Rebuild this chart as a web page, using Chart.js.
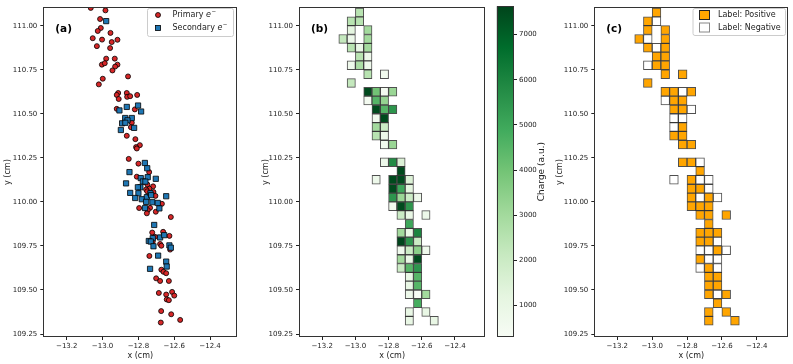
<!DOCTYPE html>
<html>
<head>
<meta charset="utf-8">
<script src="https://cdn.jsdelivr.net/npm/chart.js@4.4.1/dist/chart.umd.min.js"></script>
<style>
html, body { margin: 0; padding: 0; background: #fff; }
.panel { position: absolute; top: 0; }
</style>
</head>
<body>
<canvas id="chartA" class="panel" width="245" height="364" style="left:0px"></canvas>
<canvas id="chartB" class="panel" width="232" height="364" style="left:258px"></canvas>
<canvas id="chartBar" class="panel" width="65" height="364" style="left:490px"></canvas>
<canvas id="chartC" class="panel" width="241" height="364" style="left:552px"></canvas>
<script>
// (a) electron positions
const primaryX = [-13.066, -12.984, -13.014, -13.010, -13.027, -12.956, -13.055, -13.003, -12.917, -12.949,
  -13.032, -12.958, -12.980, -12.932, -13.004, -12.988, -12.917, -12.930, -12.945, -12.858,
  -12.999, -13.021, -12.913, -12.865, -12.921, -12.807, -12.863, -12.846, -12.910, -12.921,
  -12.820, -12.837, -12.842, -12.865, -12.817, -12.792, -12.813, -12.809, -12.854, -12.800,
  -12.740, -12.809, -12.768, -12.750, -12.718, -12.739, -12.757, -12.751, -12.716, -12.705,
  -12.669, -12.735, -12.748, -12.753, -12.796, -12.703, -12.619, -12.723, -12.662, -12.627,
  -12.708, -12.720, -12.679, -12.672, -12.623, -12.739, -12.672, -12.660, -12.645, -12.701,
  -12.679, -12.630, -12.686, -12.612, -12.645, -12.600, -12.642, -12.630, -12.673, -12.617,
  -12.567, -12.675];
const primaryY = [111.101, 111.087, 111.038, 110.987, 110.970, 110.959, 110.929, 110.921, 110.920, 110.907,
  110.884, 110.873, 110.813, 110.813, 110.779, 110.787, 110.779, 110.768, 110.746, 110.712,
  110.699, 110.667, 110.618, 110.618, 110.607, 110.607, 110.596, 110.600, 110.584, 110.528,
  110.525, 110.449, 110.424, 110.375, 110.356, 110.322, 110.311, 110.303, 110.244, 110.217,
  110.169, 110.143, 110.114, 110.098, 110.088, 110.075, 110.070, 110.060, 110.056, 110.034,
  109.989, 109.966, 109.953, 109.935, 109.965, 109.944, 109.914, 109.826, 109.830, 109.807,
  109.802, 109.775, 109.761, 109.751, 109.729, 109.693, 109.615, 109.603, 109.595, 109.566,
  109.551, 109.551, 109.483, 109.489, 109.474, 109.468, 109.446, 109.442, 109.380, 109.362,
  109.330, 109.315];
const secondaryX = [-12.980, -12.906, -12.865, -12.802, -12.785, -12.874, -12.837, -12.861, -12.891, -12.873,
  -12.824, -12.898, -12.764, -12.751, -12.850, -12.787, -12.748, -12.703, -12.775, -12.761,
  -12.869, -12.789, -12.803, -12.645, -12.846, -12.800, -12.818, -12.781, -12.753, -12.733,
  -12.729, -12.757, -12.722, -12.692, -12.683, -12.763, -12.712, -12.720, -12.679, -12.656,
  -12.742, -12.731, -12.716, -12.627, -12.619, -12.690, -12.645, -12.642, -12.735];
const secondaryY = [111.026, 110.519, 110.539, 110.547, 110.513, 110.476, 110.476, 110.463, 110.446, 110.449,
  110.420, 110.408, 110.221, 110.191, 110.169, 110.135, 110.140, 110.131, 110.116, 110.115,
  110.105, 110.083, 110.083, 110.032, 110.051, 110.049, 110.022, 110.015, 110.027, 110.049,
  110.038, 110.000, 109.998, 109.994, 109.963, 109.965, 109.869, 109.794, 109.798, 109.811,
  109.778, 109.775, 109.748, 109.753, 109.740, 109.695, 109.661, 109.633, 109.620];

// (b)/(c) pixel cells: centre, charge, label (1 = positive)
const cellX = [-12.975,
  -13.025, -12.975,
  -13.025, -12.925,
  -13.075, -13.025, -12.925,
  -13.025, -12.975, -12.925,
  -12.975, -12.925,
  -13.025, -12.975, -12.925,
  -12.925, -12.825,
  -13.025,
  -12.925, -12.875, -12.825, -12.775,
  -12.925, -12.875, -12.825,
  -12.875, -12.825, -12.775,
  -12.875, -12.825,
  -12.875, -12.825,
  -12.875, -12.825,
  -12.825, -12.775,
  -12.825, -12.775, -12.725,
  -12.725,
  -12.875, -12.775, -12.725, -12.675,
  -12.775, -12.725, -12.675,
  -12.775, -12.725, -12.675, -12.625,
  -12.775, -12.725, -12.675,
  -12.725, -12.675, -12.575,
  -12.675,
  -12.725, -12.675, -12.625,
  -12.725, -12.675, -12.625,
  -12.725, -12.675, -12.625, -12.575,
  -12.725, -12.675, -12.625,
  -12.725, -12.675, -12.625,
  -12.675, -12.625,
  -12.675, -12.625,
  -12.675, -12.625, -12.575,
  -12.625,
  -12.675, -12.575,
  -12.675, -12.525];
const cellY = [111.075,
  111.025, 111.025,
  110.975, 110.975,
  110.925, 110.925, 110.925,
  110.875, 110.875, 110.875,
  110.825, 110.825,
  110.775, 110.775, 110.775,
  110.725, 110.725,
  110.675,
  110.625, 110.625, 110.625, 110.625,
  110.575, 110.575, 110.575,
  110.525, 110.525, 110.525,
  110.475, 110.475,
  110.425, 110.425,
  110.375, 110.375,
  110.325, 110.325,
  110.225, 110.225, 110.225,
  110.175,
  110.125, 110.125, 110.125, 110.125,
  110.075, 110.075, 110.075,
  110.025, 110.025, 110.025, 110.025,
  109.975, 109.975, 109.975,
  109.925, 109.925, 109.925,
  109.875,
  109.825, 109.825, 109.825,
  109.775, 109.775, 109.775,
  109.725, 109.725, 109.725, 109.725,
  109.675, 109.675, 109.675,
  109.625, 109.625, 109.625,
  109.575, 109.575,
  109.525, 109.525,
  109.475, 109.475, 109.475,
  109.425,
  109.375, 109.375,
  109.325, 109.325];
const cellCharge = [2500,
  2500, 2500,
  1200, 3000,
  2200, 800, 3000,
  2500, 1000, 3000,
  2500, 800,
  700, 2800, 800,
  2500, 600,
  2200,
  7500, 4000, 500, 3200,
  500, 4500, 3300,
  7500, 4500, 5500,
  600, 7500,
  3000, 2000,
  2500, 800,
  600, 3200,
  800, 5800, 1500,
  7500,
  800, 7500, 7500, 1500,
  7500, 5000, 1200,
  5500, 3200, 2000, 800,
  600, 7500, 5500,
  2000, 1000, 800,
  5000,
  3000, 1000, 6000,
  7600, 5500, 2000,
  700, 2000, 3500, 700,
  3000, 1000, 7500,
  2000, 4500, 5500,
  1000, 4500,
  1000, 4500,
  800, 300, 3000,
  4800,
  1000, 1000,
  1000, 1000];
const cellPositive = [1,
  1, 0,
  1, 1,
  1, 0, 1,
  1, 0, 1,
  1, 1,
  0, 1, 1,
  1, 1,
  1,
  1, 1, 0, 1,
  0, 1, 1,
  1, 1, 0,
  0, 0,
  0, 1,
  1, 1,
  1, 1,
  1, 1, 0,
  1,
  0, 1, 0, 0,
  1, 1, 0,
  1, 0, 1, 0,
  1, 1, 1,
  1, 1, 1,
  1,
  1, 1, 1,
  1, 1, 0,
  0, 0, 1, 0,
  1, 0, 0,
  0, 1, 0,
  1, 1,
  1, 1,
  1, 0, 1,
  1,
  1, 1,
  1, 1];

const xTicks = [-13.2, -13.0, -12.8, -12.6, -12.4];
const yTicks = [109.25, 109.5, 109.75, 110.0, 110.25, 110.5, 110.75, 111.0];
const chargeTicks = [1000, 2000, 3000, 4000, 5000, 6000, 7000];
const CHARGE_MIN = 300, CHARGE_MAX = 7630;
const CELL = 0.05;
const Y_MIN = 109.233, Y_MAX = 111.105;

const greens = ['#f7fcf5', '#e5f5e0', '#c7e9c0', '#a1d99b', '#74c476', '#41ab5d', '#238b45', '#006d2c', '#00441b'];
const FONT = 'DejaVu Sans';
const INK = '#222';

function hexRgb(h) {
  return [parseInt(h.slice(1, 3), 16), parseInt(h.slice(3, 5), 16), parseInt(h.slice(5, 7), 16)];
}
function greenFor(v) {
  let t = (v - CHARGE_MIN) / (CHARGE_MAX - CHARGE_MIN);
  t = Math.max(0, Math.min(1, t)) * (greens.length - 1);
  const i = Math.min(Math.floor(t), greens.length - 2);
  const f = t - i;
  const a = hexRgb(greens[i]), b = hexRgb(greens[i + 1]);
  const c = a.map((v, k) => Math.round(v + (b[k] - v) * f));
  return 'rgb(' + c.join(',') + ')';
}
const fmtX = v => (v < 0 ? '\u2212' : '') + Math.abs(v).toFixed(1);

function axes(xMin, xMax, yWidth) {
  return {
    x: {
      type: 'linear', min: xMin, max: xMax, offset: false,
      afterBuildTicks: s => { s.ticks = xTicks.map(v => ({ value: v })); },
      afterFit: s => { s.height = 27; },
      ticks: { callback: fmtX, font: { family: FONT, size: 7 }, color: INK, padding: 2, maxRotation: 0, autoSkip: false },
      grid: { drawOnChartArea: false, drawTicks: true, tickLength: 3, color: INK, offset: false },
      border: { display: false },
      title: { display: true, text: 'x (cm)', font: { family: FONT, size: 8 }, color: INK, padding: { top: 0, bottom: 3 } }
    },
    y: {
      type: 'linear', min: Y_MIN, max: Y_MAX,
      afterBuildTicks: s => { s.ticks = yTicks.map(v => ({ value: v })); },
      afterFit: s => { s.width = yWidth; },
      ticks: { callback: v => v.toFixed(2), font: { family: FONT, size: 7 }, color: INK, padding: 3, autoSkip: false },
      grid: { drawOnChartArea: false, drawTicks: true, tickLength: 3, color: INK },
      border: { display: false },
      title: { display: true, text: 'y (cm)', font: { family: FONT, size: 8 }, color: INK, padding: { top: 3, bottom: 0 } }
    }
  };
}

// frame round the plot and the panel tag
const framePlugin = {
  id: 'frame',
  afterDatasetsDraw(chart, args, opts) {
    const { ctx, chartArea: a } = chart;
    ctx.save();
    ctx.strokeStyle = '#333';
    ctx.lineWidth = 1;
    ctx.strokeRect(Math.round(a.left) + 0.5, Math.round(a.top) + 0.5,
      Math.round(a.right) - Math.round(a.left) - 1, Math.round(a.bottom) - Math.round(a.top) - 1);
    if (opts.tag) {
      ctx.fillStyle = '#000';
      ctx.font = 'bold 10.5px "' + FONT + '"';
      ctx.textBaseline = 'middle';
      ctx.fillText(opts.tag, a.left + 12, a.top + 22);
    }
    ctx.restore();
  }
};

function legendBox(ctx, x, y, w, h) {
  ctx.beginPath();
  ctx.roundRect(x + 0.5, y + 0.5, w, h, 2);
  ctx.fillStyle = 'rgba(255,255,255,0.85)';
  ctx.fill();
  ctx.strokeStyle = '#ccc';
  ctx.lineWidth = 1;
  ctx.stroke();
}
function electronLabel(ctx, word, x, y) {
  ctx.font = '8px "' + FONT + '"';
  ctx.fillText(word + ' ', x, y);
  x += ctx.measureText(word + ' ').width;
  ctx.font = 'italic 8px "' + FONT + '"';
  ctx.fillText('e', x, y);
  x += ctx.measureText('e').width;
  ctx.font = '5.5px "' + FONT + '"';
  ctx.fillText('\u2212', x + 0.5, y - 3);
}

const legendA = {
  id: 'legendA',
  afterDraw(chart) {
    const ctx = chart.ctx;
    ctx.save();
    legendBox(ctx, 147, 8, 86, 28);
    ctx.lineWidth = 0.8;
    ctx.strokeStyle = '#000';
    ctx.beginPath();
    ctx.arc(158, 15, 2.5, 0, Math.PI * 2);
    ctx.fillStyle = '#d62728';
    ctx.fill();
    ctx.stroke();
    ctx.fillStyle = '#1f77b4';
    ctx.fillRect(155.4, 25.4, 5.2, 5.2);
    ctx.strokeRect(155.4, 25.4, 5.2, 5.2);
    ctx.fillStyle = INK;
    ctx.textBaseline = 'middle';
    electronLabel(ctx, 'Primary', 172.5, 15);
    electronLabel(ctx, 'Secondary', 172.5, 28);
    ctx.restore();
  }
};

const legendC = {
  id: 'legendC',
  afterDraw(chart) {
    const ctx = chart.ctx;
    const ox = -552;
    ctx.save();
    legendBox(ctx, 692.5 + ox, 8, 92.5, 27);
    ctx.lineWidth = 1;
    ctx.fillStyle = '#ffa500';
    ctx.fillRect(699 + ox, 10.5, 10, 9);
    ctx.strokeStyle = '#222';
    ctx.strokeRect(699.5 + ox, 10.5, 10, 9);
    ctx.fillStyle = '#fff';
    ctx.fillRect(699 + ox, 23, 10, 9);
    ctx.strokeStyle = '#888';
    ctx.strokeRect(699.5 + ox, 23, 10, 9);
    ctx.fillStyle = INK;
    ctx.font = '8px "' + FONT + '"';
    ctx.textBaseline = 'middle';
    ctx.fillText('Label: Positive', 718 + ox, 15);
    ctx.fillText('Label: Negative', 718 + ox, 27.5);
    ctx.restore();
  }
};

const common = {
  responsive: false,
  animation: false,
  events: [],
  plugins: { legend: { display: false }, tooltip: { enabled: false } }
};

// (a)
new Chart(document.getElementById('chartA'), {
  type: 'scatter',
  data: {
    datasets: [
      {
        label: 'Primary e-',
        data: primaryX.map((x, i) => ({ x, y: primaryY[i] })),
        pointStyle: 'circle', pointRadius: 2.5, borderWidth: 0.8,
        backgroundColor: '#d62728', borderColor: '#000', order: 2
      },
      {
        label: 'Secondary e-',
        data: secondaryX.map((x, i) => ({ x, y: secondaryY[i] })),
        pointStyle: 'rect', pointRadius: 3.7, borderWidth: 0.8,
        backgroundColor: '#1f77b4', borderColor: '#000', order: 1
      }
    ]
  },
  options: Object.assign({}, common, {
    layout: { padding: { top: 4, right: 7.7, left: 0, bottom: 0 } },
    scales: axes(-13.331, -12.248, 43.3),
    plugins: Object.assign({}, common.plugins, { frame: { tag: '(a)' } })
  }),
  plugins: [framePlugin, legendA]
});

const cellData = cellX.map((x, i) => ({ x, y: [cellY[i] - CELL / 2, cellY[i] + CELL / 2] }));
function cellChart(id, colors, edge, xMin, xMax, yWidth, rightPad, tag, extra) {
  return new Chart(document.getElementById(id), {
    type: 'bar',
    data: {
      datasets: [{
        data: cellData,
        backgroundColor: colors,
        borderColor: edge,
        borderWidth: 1,
        borderSkipped: false,
        categoryPercentage: 1,
        barPercentage: 1
      }]
    },
    options: Object.assign({}, common, {
      layout: { padding: { top: 4, right: rightPad, left: 0, bottom: 0 } },
      scales: axes(xMin, xMax, yWidth),
      plugins: Object.assign({}, common.plugins, { frame: { tag } })
    }),
    plugins: extra ? [framePlugin, extra] : [framePlugin]
  });
}

// (b) charge
cellChart('chartB', cellCharge.map(greenFor), 'rgba(20,20,20,0.75)', -13.34, -12.217, 41, 4.7, '(b)');

// colour bar
new Chart(document.getElementById('chartBar'), {
  type: 'bar',
  data: {
    labels: ['charge'],
    datasets: [{
      data: [[CHARGE_MIN, CHARGE_MAX]],
      categoryPercentage: 1,
      barPercentage: 1,
      backgroundColor: c => {
        const ch = c.chart;
        const ys = ch.scales.y;
        if (!ch.chartArea || !ys) return greens[4];
        const y0 = ys.getPixelForValue(CHARGE_MIN), y1 = ys.getPixelForValue(CHARGE_MAX);
        if (!isFinite(y0) || !isFinite(y1)) return greens[4];
        const g = ch.ctx.createLinearGradient(0, y0, 0, y1);
        greens.forEach((col, i) => g.addColorStop(i / (greens.length - 1), col));
        return g;
      }
    }]
  },
  options: Object.assign({}, common, {
    layout: { padding: { top: 4, right: 0, left: 6.7, bottom: 27 } },
    scales: {
      x: { display: false },
      y: {
        position: 'right', min: CHARGE_MIN, max: CHARGE_MAX,
        afterBuildTicks: s => { s.ticks = chargeTicks.map(v => ({ value: v })); },
        afterFit: s => { s.width = 41; },
        ticks: { callback: v => String(v), font: { family: FONT, size: 7 }, color: INK, padding: 2 },
        grid: { drawOnChartArea: false, drawTicks: true, tickLength: 3, color: INK },
        border: { display: false }
      }
    }
  }),
  plugins: [framePlugin, {
    id: 'cbarTitle',
    afterDraw(chart) {
      const { ctx, chartArea: a } = chart;
      ctx.save();
      ctx.translate(52, (a.top + a.bottom) / 2);
      ctx.rotate(-Math.PI / 2);
      ctx.fillStyle = INK;
      ctx.font = '9px "' + FONT + '"';
      ctx.textAlign = 'center';
      ctx.textBaseline = 'middle';
      ctx.fillText('Charge (a.u.)', 0, 0);
      ctx.restore();
    }
  }]
});

// (c) labels
cellChart('chartC', cellPositive.map(p => p ? '#ffa500' : '#ffffff'), 'rgba(20,20,20,0.75)',
  -13.332, -12.219, 42.3, 4.7, '(c)', legendC);
</script>
</body>
</html>
